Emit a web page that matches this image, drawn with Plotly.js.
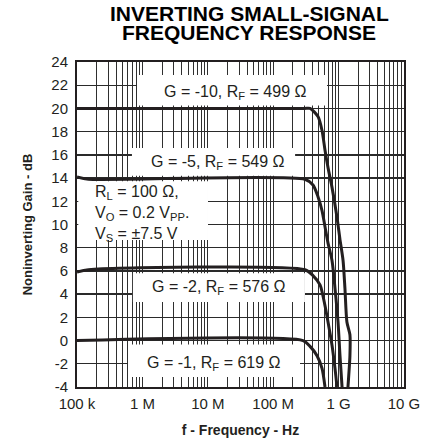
<!DOCTYPE html>
<html>
<head>
<meta charset="utf-8">
<script src="https://cdn.plot.ly/plotly-3.0.1.min.js"></script>
<style>html,body{margin:0;padding:0;background:#fff;}#chart{width:432px;height:442px;}</style>
</head>
<body>
<div id="chart"></div>
<script>
// ---- data (frequency in Hz, gain in dB) ----
const freqG10 = [1e5, 3.0e8, 3.66e8, 4.84e8, 5.58e8, 6.2e8, 6.89e8, 7.93e8, 9.46e8, 1.05e9, 1.17e9, 1.25e9, 1.34e9, 1.49e9, 1.49e9, 1.39e9];
const gainG10 = [20, 20, 20, 19.3, 18.1, 16.4, 14.9, 13.2, 10.6, 8.7, 6.9, 4.5, 1.6, 0.5, -1.3, -4];
const freqG5 = [1e5, 1.5e5, 3.06e8, 4.06e8, 4.84e8, 5.58e8, 6.2e8, 6.89e8, 7.93e8, 8.81e8, 9.8e8, 1.05e9, 1.13e9];
const gainG5 = [14.1, 13.9, 13.9, 13.4, 12.4, 11.2, 9.8, 8.4, 6.9, 4.5, 1.6, -1.3, -4];
const freqG2 = [1e5, 1.5e5, 3.06e8, 4.06e8, 5.2e8, 6.2e8, 6.89e8, 7.93e8, 8.81e8, 9.46e8];
const gainG2 = [5.9, 6.1, 6.1, 5.6, 4.8, 3.0, 1.6, -0.4, -2.4, -4];
const freqG1 = [1e5, 2.86e8, 3.66e8, 4.68e8, 5.58e8, 6.2e8];
const gainG1 = [0, 0, -0.5, -1.3, -2.4, -4];

const decades = [1e5, 1e6, 1e7, 1e8, 1e9, 1e10];
const decadeLabels = ['100 k', '1 M', '10 M', '100 M', '1 G', '10 G'];
const yTicks = [-4, -2, 0, 2, 4, 6, 8, 10, 12, 14, 16, 18, 20, 22, 24];
const yTickLabels = ['-4', '-2', '0', '2', '4', '6', '8', '10', '12', '14', '16', '18', '20', '22', '24'];

const curveLabels = [
  'G = -10, R<sub>F</sub> = 499 Ω',
  'G = -5, R<sub>F</sub> = 549 Ω',
  'G = -2, R<sub>F</sub> = 576 Ω',
  'G = -1, R<sub>F</sub> = 619 Ω'
];
const condText = 'R<sub>L</sub> = 100 Ω,<br>V<sub>O</sub> = 0.2 V<sub>PP</sub>.<br>V<sub>S</sub> = ±7.5 V';
const titleLines = ['<b>INVERTING SMALL-SIGNAL</b>', '<b>FREQUENCY RESPONSE</b>'];

// minor grid positions (2..9 within each decade)
const minorVals = [];
decades.slice(0, -1).forEach(d => { for (let m = 2; m <= 9; m++) minorVals.push(d * m); });

const ink = '#231f20';
const mk = (x, y) => ({x: x, y: y, type: 'scatter', mode: 'lines',
  line: {color: ink, width: 3, shape: 'spline', smoothing: 0.7}, hoverinfo: 'skip', showlegend: false});
const traces = [mk(freqG10, gainG10), mk(freqG5, gainG5), mk(freqG2, gainG2), mk(freqG1, gainG1)];

// white label boxes (fractions of the plot area), kept clear of the curves
const box = (x0, x1, y0, y1) => ({type: 'rect', xref: 'x domain', yref: 'y domain', x0: x0, x1: x1, y0: y0, y1: y1,
  fillcolor: '#ffffff', line: {width: 0}, layer: 'above'});
const shapes = [
  box(0.1835, 0.7645, 0.866, 0.960),
  box(0.168, 0.667, 0.650, 0.7354),
  box(0.004, 0.4006, 0.452, 0.633),
  box(0.171, 0.697, 0.2615, 0.350),
  box(0.156, 0.682, 0.031, 0.131)
];

const lblFont = {family: 'Liberation Sans, Arial, sans-serif', size: 16, color: ink};
const ann = (x, y, t, opts) => Object.assign({xref: 'x', yref: 'y', x: x, y: y, text: t,
  showarrow: false, font: lblFont}, opts || {});
const titleFont = {family: 'Liberation Sans, Arial, sans-serif', size: 21, color: '#000'};
const annotations = [
  ann(7.416, 21.41, curveLabels[0]),
  ann(7.15, 15.37, curveLabels[1]),
  ann(7.17, 4.6, curveLabels[2]),
  ann(7.09, -2.0, curveLabels[3]),
  ann(5.245, 10.98, condText, {xanchor: 'left', align: 'left'}),
  {xref: 'paper', yref: 'paper', x: 0.526, y: (387 - 13) / 325, yanchor: 'middle',
   text: titleLines[0], showarrow: false, font: titleFont},
  {xref: 'paper', yref: 'paper', x: 0.526, y: (387 - 32) / 325, yanchor: 'middle',
   text: titleLines[1], showarrow: false, font: titleFont}
];

const layout = {
  width: 432, height: 442,
  margin: {l: 77, r: 28, t: 62, b: 55},
  paper_bgcolor: '#fff', plot_bgcolor: '#fff',
  font: {family: 'Liberation Sans, Arial, sans-serif', size: 15, color: ink},
  xaxis: {
    type: 'log', range: [5, 10], tickmode: 'array', tickvals: decades, ticktext: decadeLabels,
    ticks: '', showgrid: true, gridcolor: '#2f2f2f', gridwidth: 1,
    minor: {tickmode: 'array', tickvals: minorVals, showgrid: true, gridcolor: '#2f2f2f', gridwidth: 1, ticks: ''},
    showline: true, linecolor: ink, linewidth: 2, mirror: true, zeroline: false,
    tickfont: {size: 15}, ticklabelstandoff: 2,
    title: {text: '<b>f - Frequency - Hz</b>', font: {size: 14}, standoff: 14}
  },
  yaxis: {
    range: [-4, 24], tickmode: 'array', tickvals: yTicks, ticktext: yTickLabels,
    ticks: '', showgrid: true, gridcolor: '#2a2a2a', gridwidth: 1.3,
    showline: true, linecolor: ink, linewidth: 2, mirror: true, zeroline: false,
    tickfont: {size: 15}, ticklabelstandoff: 4,
    title: {text: '<b>Noninverting Gain - dB</b>', font: {size: 13}, standoff: 16}
  },
  shapes: shapes,
  annotations: annotations,
  showlegend: false
};

Plotly.newPlot('chart', traces, layout, {displayModeBar: false, staticPlot: true});
</script>
</body>
</html>
